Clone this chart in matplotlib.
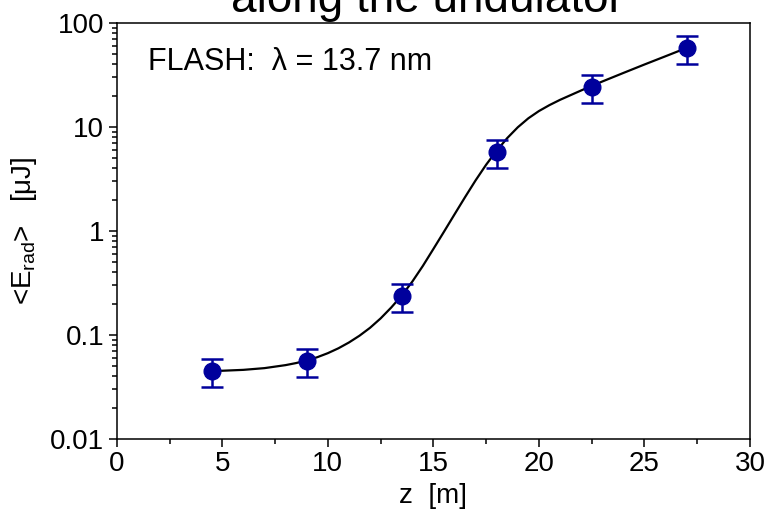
#!/usr/bin/env python3

import numpy as np
import matplotlib
matplotlib.use('Agg')
import matplotlib.pyplot as plt
from matplotlib.ticker import FixedLocator, LogLocator, NullFormatter, MultipleLocator

plt.rcParams['font.family'] = ['Liberation Sans', 'DejaVu Sans']
plt.rcParams['mathtext.fontset'] = 'custom'
plt.rcParams['mathtext.rm'] = 'Liberation Sans'

# measured pulse energy along the undulator
z_pts = [4.5, 9.0, 13.5, 18.0, 22.5, 27.0]
e_pts = [0.045, 0.056, 0.237, 5.75, 24.3, 57.5]
e_err = [0.3 * e for e in e_pts]

# fitted curve, values
z_fit = [4.5, 5, 6, 7, 8, 8.5, 9, 9.5, 10, 10.5, 11, 11.5, 12, 12.5, 13, 13.5,
         14, 14.5, 15, 15.5, 16, 16.5, 17, 17.5, 18, 18.5, 19, 19.5, 20, 20.5,
         21, 22, 23, 24, 25, 26, 27]
e_fit = [0.045, 0.0452, 0.0461, 0.0479, 0.0512, 0.0536, 0.0568, 0.061, 0.0667,
         0.0743, 0.0845, 0.0982, 0.117, 0.144, 0.183, 0.239, 0.325, 0.46, 0.67,
         0.98, 1.44, 2.11, 3.06, 4.33, 5.91, 7.81, 9.92, 12.1, 14.2, 16.2, 18.2,
         22.4, 27.3, 33.0, 39.8, 47.8, 57.5]

y_ticks = [0.01, 0.1, 1, 10, 100]
y_labels = ['0.01', '0.1', '1', '10', '100']

navy = '#00009c'

fig = plt.figure(figsize=(7.68, 5.2), dpi=100)
ax = fig.add_axes([0.152, 0.156, 0.8246, 0.80])

ax.plot(z_fit, e_fit, color='black', lw=1.6, zorder=2)
ax.errorbar(z_pts, e_pts, yerr=e_err, fmt='o', color=navy, ms=12,
            elinewidth=1.8, capsize=8, capthick=1.8, zorder=3)

ax.set_yscale('log')
ax.set_xlim(0, 30)
ax.set_ylim(0.01, 100)
ax.xaxis.set_major_locator(MultipleLocator(5))
ax.xaxis.set_minor_locator(MultipleLocator(2.5))
ax.yaxis.set_major_locator(FixedLocator(y_ticks))
ax.set_yticklabels(y_labels)
ax.yaxis.set_minor_locator(LogLocator(base=10, subs=np.arange(2, 10)))
ax.yaxis.set_minor_formatter(NullFormatter())

ax.tick_params(which='both', direction='out', top=False, right=False,
               labelsize=20, width=1.1, pad=3)
ax.tick_params(which='major', length=6)
ax.tick_params(which='minor', length=3.5)
for s in ax.spines.values():
    s.set_linewidth(1.1)

ax.set_xlabel('z  [m]', fontsize=20, labelpad=4)
ax.set_ylabel(r'<E$_{\rm rad}$>   [μJ]', fontsize=20, labelpad=8)

ax.text(0.05, 0.905, 'FLASH:  λ = 13.7 nm', transform=ax.transAxes,
        fontsize=22, va='center', ha='left')

# title sits mostly above the picture, as in the original crop
fig.text(0.556, 1 - 12 / 520, 'along the undulator', fontsize=33,
         ha='center', va='baseline')

fig.savefig('out.png', dpi=100)
